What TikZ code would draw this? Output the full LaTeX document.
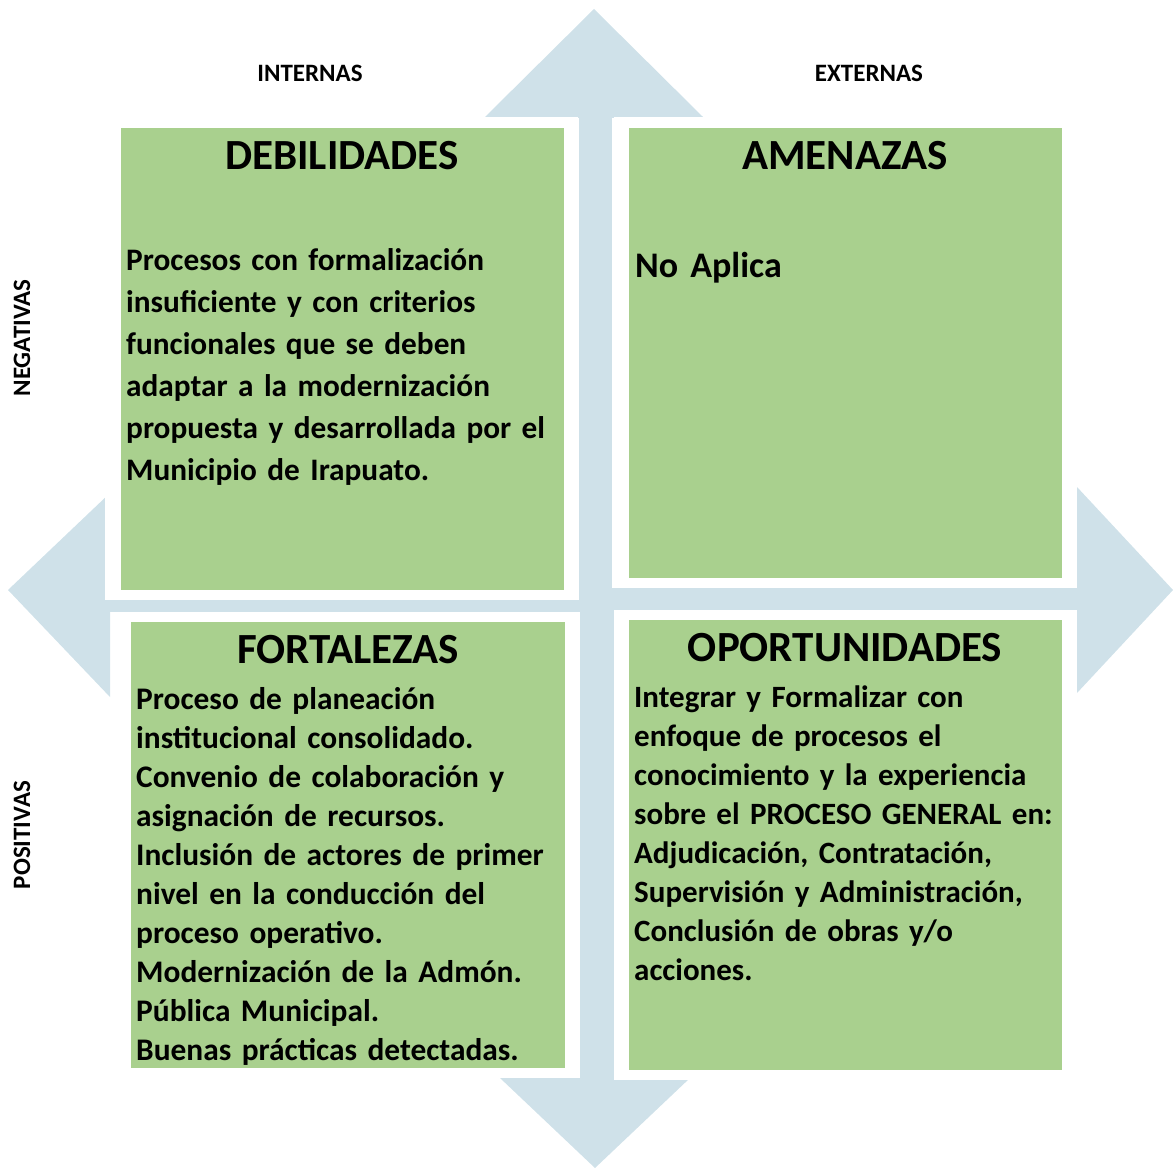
\documentclass[tikz,border=0pt]{standalone}
\usepackage{fontspec}
\setmainfont{Carlito}
\usepackage{tikz}
\usetikzlibrary{positioning}

\definecolor{swotgreen}{HTML}{A9D08E}
\definecolor{crossblue}{HTML}{CFE1E9}

\tikzset{
  frame/.style={fill=white,draw=none},
  quad/.style={fill=swotgreen,draw=none},
  title/.style={anchor=base,inner sep=0pt,font=\fontsize{43}{46}\selectfont\bfseries},
  body/.style={anchor=base west,inner sep=0pt,align=left,text width=#1},
  axis/.style={inner sep=0pt,font=\fontsize{25}{27}\selectfont\bfseries}
}

\begin{document}
\begin{tikzpicture}[x=1pt,y=-1pt]
  \useasboundingbox (0,0) rectangle (1173,1169);

  % background cross with four arrow heads
  \fill[crossblue] (578,110) rectangle (614,1080);
  \fill[crossblue] (110,588) rectangle (1077,612);
  \fill[crossblue] (485,117) -- (594,9) -- (703,117) -- cycle;
  \fill[crossblue] (500,1078) -- (595,1168) -- (690,1078) -- cycle;
  \fill[crossblue] (110,493) -- (8,590) -- (110,697) -- cycle;
  \fill[crossblue] (1077,487) -- (1173,590) -- (1077,693) -- cycle;

  % white frames
  \fill[frame] (105,118) rectangle (579,600);
  \fill[frame] (612,118) rectangle (1077,588);
  \fill[frame] (115,612) rectangle (580,1078);
  \fill[frame] (614,610) rectangle (1077,1080);

  % green quadrants
  \fill[quad] (121,128) rectangle (564,590);
  \fill[quad] (629,128) rectangle (1062,578);
  \fill[quad] (131,622) rectangle (565,1068);
  \fill[quad] (629,620) rectangle (1062,1070);

  % axis labels
  \node[axis,anchor=base] (int) at (310,82) {INTERNAS};
  \node[axis,anchor=base] (ext) at (869,82) {EXTERNAS};
  \node[axis,rotate=90] (neg) at (22,338) {NEGATIVAS};
  \node[axis,rotate=90] (pos) at (22,835) {POSITIVAS};

  % titles
  \node[title] (deb) at (342,170) {DEBILIDADES};
  \node[title] (ame) at (845,170) {AMENAZAS};
  \node[title] (fort) at (348,663) {FORTALEZAS};
  \node[title] (opor) at (845,661) {OPORTUNIDADES};

  % texts
  \node[body=440pt,font=\fontsize{31.3}{42}\selectfont\bfseries] (debtxt) at (126,271)
    {Procesos con formalización\\insuficiente y con criterios\\funcionales que se deben\\adaptar a la modernización\\propuesta y desarrollada por el\\Municipio de Irapuato.};
  \node[body=420pt,font=\fontsize{36}{40}\selectfont\bfseries] (ametxt) at (635,277)
    {No Aplica};
  \node[body=430pt,font=\fontsize{31.4}{39}\selectfont\bfseries] (forttxt) at (136,709)
    {Proceso de planeación\\institucional consolidado.\\Convenio de colaboración y\\asignación de recursos.\\Inclusión de actores de primer\\nivel en la conducción del\\proceso operativo.\\Modernización de la Admón.\\Pública Municipal.\\Buenas prácticas detectadas.};
  \node[body=430pt,font=\fontsize{31}{39}\selectfont\bfseries] (oportxt) at (634,707)
    {Integrar y Formalizar con\\enfoque de procesos el\\conocimiento y la experiencia\\sobre el PROCESO GENERAL en:\\Adjudicación, Contratación,\\Supervisión y Administración,\\Conclusión de obras y/o\\acciones.};

\end{tikzpicture}
\end{document}
